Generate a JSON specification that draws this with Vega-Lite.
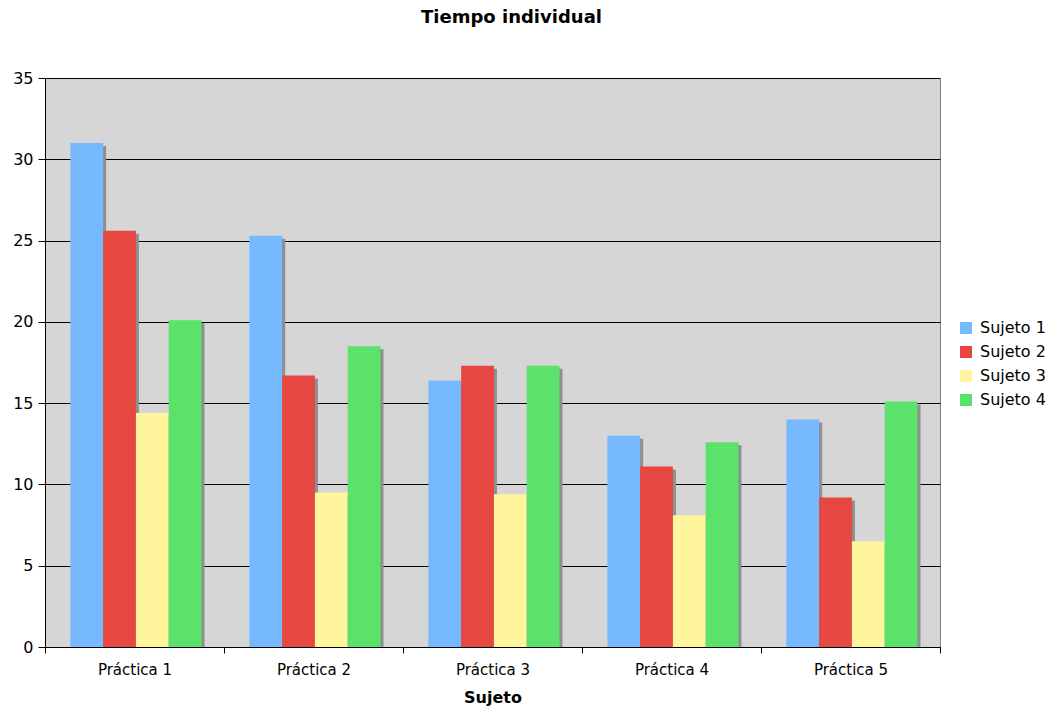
{
  "$schema": "https://vega.github.io/schema/vega-lite/v6.json",
  "width": 895,
  "height": 569,
  "autosize": "none",
  "padding": {"left": 45, "top": 78, "right": 109, "bottom": 64},
  "background": "white",
  "config": {
    "font": "DejaVu Sans",
    "view": {"fill": "#d6d6d6", "stroke": "#808080", "strokeWidth": 1}
  },
  "title": {
    "text": "Tiempo individual",
    "font": "DejaVu Sans",
    "fontSize": 18,
    "fontWeight": "bold",
    "color": "#000",
    "anchor": "middle",
    "frame": "group",
    "dx": 19,
    "offset": 43
  },
  "data": {
    "values": [
      {"practica": "Práctica 1", "sujeto": "Sujeto 1", "tiempo": 31.0},
      {"practica": "Práctica 1", "sujeto": "Sujeto 2", "tiempo": 25.6},
      {"practica": "Práctica 1", "sujeto": "Sujeto 3", "tiempo": 14.4},
      {"practica": "Práctica 1", "sujeto": "Sujeto 4", "tiempo": 20.1},
      {"practica": "Práctica 2", "sujeto": "Sujeto 1", "tiempo": 25.3},
      {"practica": "Práctica 2", "sujeto": "Sujeto 2", "tiempo": 16.7},
      {"practica": "Práctica 2", "sujeto": "Sujeto 3", "tiempo": 9.5},
      {"practica": "Práctica 2", "sujeto": "Sujeto 4", "tiempo": 18.5},
      {"practica": "Práctica 3", "sujeto": "Sujeto 1", "tiempo": 16.4},
      {"practica": "Práctica 3", "sujeto": "Sujeto 2", "tiempo": 17.3},
      {"practica": "Práctica 3", "sujeto": "Sujeto 3", "tiempo": 9.4},
      {"practica": "Práctica 3", "sujeto": "Sujeto 4", "tiempo": 17.3},
      {"practica": "Práctica 4", "sujeto": "Sujeto 1", "tiempo": 13.0},
      {"practica": "Práctica 4", "sujeto": "Sujeto 2", "tiempo": 11.1},
      {"practica": "Práctica 4", "sujeto": "Sujeto 3", "tiempo": 8.1},
      {"practica": "Práctica 4", "sujeto": "Sujeto 4", "tiempo": 12.6},
      {"practica": "Práctica 5", "sujeto": "Sujeto 1", "tiempo": 14.0},
      {"practica": "Práctica 5", "sujeto": "Sujeto 2", "tiempo": 9.2},
      {"practica": "Práctica 5", "sujeto": "Sujeto 3", "tiempo": 6.5},
      {"practica": "Práctica 5", "sujeto": "Sujeto 4", "tiempo": 15.1}
    ]
  },
  "encoding": {
    "x": {
      "field": "practica",
      "type": "nominal",
      "scale": {"paddingInner": 0, "paddingOuter": 0},
      "axis": {
        "title": "Sujeto",
        "labelAngle": 0,
        "labelFontSize": 15,
        "labelColor": "#000",
        "labelPadding": 9,
        "tickBand": "extent",
        "tickColor": "#000",
        "tickSize": 6,
        "domainColor": "#000",
        "titleFontSize": 16,
        "titleFontWeight": "bold",
        "titleColor": "#000",
        "titlePadding": 12
      }
    },
    "y": {
      "field": "tiempo",
      "type": "quantitative",
      "scale": {"domain": [0, 35], "nice": false},
      "axis": {
        "title": null,
        "values": [0, 5, 10, 15, 20, 25, 30, 35],
        "labelFontSize": 16,
        "labelColor": "#000",
        "labelPadding": 5,
        "tickColor": "#000",
        "tickSize": 7,
        "domainColor": "#000",
        "gridColor": "#000",
        "gridOpacity": 1,
        "gridWidth": 1
      }
    }
  },
  "resolve": {"scale": {"xOffset": "independent"}},
  "layer": [
    {
      "mark": {"type": "bar", "color": "#8f8f8f", "yOffset": 3, "clip": true},
      "encoding": {
        "xOffset": {
          "field": "sujeto",
          "type": "nominal",
          "scale": {"paddingInner": 0, "paddingOuter": 0.73, "align": 0.53, "range": [3, 182]}
        }
      }
    },
    {
      "mark": {"type": "bar"},
      "encoding": {
        "xOffset": {
          "field": "sujeto",
          "type": "nominal",
          "scale": {"paddingInner": 0, "paddingOuter": 0.73, "align": 0.53}
        },
        "color": {
          "field": "sujeto",
          "type": "nominal",
          "scale": {
            "domain": ["Sujeto 1", "Sujeto 2", "Sujeto 3", "Sujeto 4"],
            "range": ["#76b9ff", "#e64741", "#fff59d", "#5ae26b"]
          },
          "legend": {
            "title": null,
            "orient": "none",
            "legendX": 913,
            "legendY": 242,
            "symbolType": "square",
            "symbolSize": 144,
            "symbolStrokeWidth": 0,
            "symbolOpacity": 1,
            "labelFontSize": 16,
            "labelColor": "#000",
            "labelOffset": 6,
            "rowPadding": 8
          }
        }
      }
    }
  ]
}
